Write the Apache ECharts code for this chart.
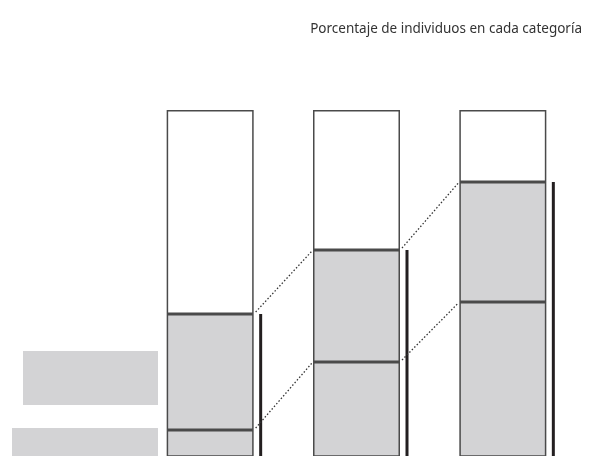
<!DOCTYPE html>
<html><head><meta charset="utf-8">
<script src="https://cdn.jsdelivr.net/npm/echarts@6/dist/echarts.min.js"></script>
<style>html,body{margin:0;padding:0;background:#fff}#c{width:594px;height:456px}</style>
</head><body><div id="c"></div>
<script>
var titleText = 'Porcentaje de individuos en cada categoría';
var categories = ['A', 'B', 'C'];
var bottomValues = [20, 37, 52];
var middleValues = [29, 28, 30];
var topValues = [51, 35, 18];

var cumulative = categories.map(function (c, i) { return bottomValues[i] + middleValues[i]; });
var barW = 87;
var chart = echarts.init(document.getElementById('c'), null, {renderer: 'canvas'});

var linkData = [];
for (var i = 0; i < categories.length - 1; i++) {
  linkData.push([i, bottomValues[i], bottomValues[i + 1]]);
  linkData.push([i, cumulative[i], cumulative[i + 1]]);
}
var barStyle = function (fill) {
  return {color: fill, borderColor: '#4a4a4a', borderWidth: 1.5};
};
chart.setOption({
  animation: false,
  title: {text: titleText, right: 7, top: 17,
    textStyle: {fontFamily: 'Noto Sans', fontSize: 13.5, fontWeight: 'normal', color: '#333'}},
  grid: {left: 137, width: 439, top: 110, bottom: 0},
  xAxis: {type: 'category', data: categories, show: false},
  yAxis: {type: 'value', min: 13.5, max: 100, show: false},
  graphic: [
    {type: 'rect', shape: {x: 23, y: 351, width: 135, height: 54}, style: {fill: '#d3d3d5'}},
    {type: 'rect', shape: {x: 12, y: 428, width: 146, height: 40}, style: {fill: '#d3d3d5'}}
  ],
  series: [
    {type: 'bar', stack: 's', barWidth: barW, data: bottomValues, itemStyle: barStyle('#d3d3d5'), clip: true},
    {type: 'bar', stack: 's', barWidth: barW, data: middleValues, itemStyle: barStyle('#d3d3d5'), clip: true},
    {type: 'bar', stack: 's', barWidth: barW, data: topValues, itemStyle: barStyle('#ffffff'), clip: true},
    {type: 'custom', data: cumulative.map(function (v, i) { return [i, v]; }),
      renderItem: function (params, api) {
        var p = api.coord([api.value(0), api.value(1)]);
        var b = api.coord([api.value(0), 0]);
        return {type: 'rect', shape: {x: p[0] + 49, y: p[1], width: 3, height: b[1] - p[1]},
          style: {fill: '#231f20'}};
      }},
    {type: 'custom', data: linkData,
      renderItem: function (params, api) {
        var i = api.value(0);
        var a = api.coord([i, api.value(1)]);
        var b = api.coord([i + 1, api.value(2)]);
        return {type: 'line', shape: {x1: a[0] + barW / 2 + 2, y1: a[1] - 2, x2: b[0] - barW / 2 - 1, y2: b[1] + 1},
          style: {stroke: '#333', lineWidth: 1.3, lineDash: [1.5, 2]}};
      }}
  ]
});
</script></body></html>
